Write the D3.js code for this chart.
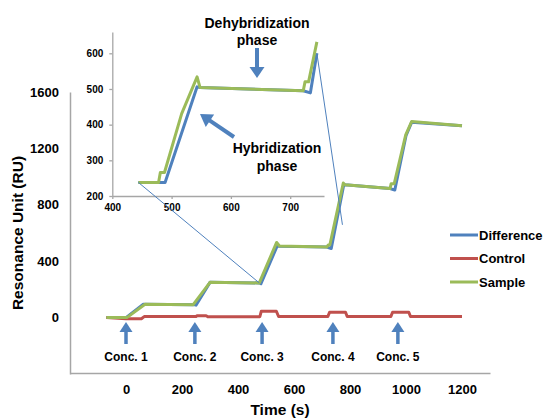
<!DOCTYPE html>
<html>
<head>
<meta charset="utf-8">
<script src="https://cdn.jsdelivr.net/npm/d3@7"></script>
<style>
  body { margin: 0; background: #fff; }
  svg { display: block; font-family: "Liberation Sans", Arial, sans-serif; font-weight: bold; }
  .axis text { fill: #000; font-weight: bold; }
</style>
</head>
<body>
<svg id="chart"></svg>
<script>
// ---- data ----
const xTicks = [0, 200, 400, 600, 800, 1000, 1200];
const yTicks = [0, 400, 800, 1200, 1600];
const insetXTicks = [400, 500, 600, 700];
const insetYTicks = [200, 300, 400, 500, 600];

const seriesNames = ['Difference', 'Control', 'Sample'];
const seriesColors = ['#4F81BD', '#C0504D', '#9BBB59'];

// main chart
const diffTime = [-70, 0, 62, 244, 250, 300, 476, 482, 540, 548, 717, 733, 778, 782, 943, 960, 1000, 1020, 1200];
const diffRU   = [0, 0, 95, 92, 88, 250, 246, 240, 508, 506, 500, 490, 945, 942, 915, 905, 1290, 1385, 1360];
const ctrlTime = [-70, 0, 55, 65, 250, 254, 286, 292, 478, 483, 537, 545, 721, 727, 784, 790, 946, 952, 1010, 1016, 1200];
const ctrlRU   = [0, -8, -8, 7, 7, 14, 14, 6, 6, 45, 45, 8, 8, 38, 38, 8, 8, 38, 38, 8, 8];
const sampleTime = [-70, 3, 68, 240, 300, 476, 538, 548, 717, 722, 728, 776, 782, 943, 947, 958, 999, 1020, 1200];
const sampleRU   = [0, 0, 95, 92, 250, 246, 533, 508, 500, 515, 515, 954, 942, 915, 950, 950, 1296, 1390, 1360];

// inset (zoom on conc. 3)
const insetDiffTime = [444, 489, 543, 548, 722, 734, 745];
const insetDiffRU   = [238, 238, 506, 504, 495, 489, 600];
const insetSampleTime = [444, 478, 481, 488, 517, 543, 548, 722, 725, 731, 745];
const insetSampleRU   = [238, 238, 266, 266, 431, 534, 504, 495, 520, 520, 632];

// injections
const concTimes = [0, 246, 486, 739, 971];
const concLabels = ['Conc. 1', 'Conc. 2', 'Conc. 3', 'Conc. 4', 'Conc. 5'];

// ---- drawing ----
const W = 545, H = 418;
const blue = '#4F81BD';
const svg = d3.select('#chart').attr('width', W).attr('height', H);

const x = d3.scaleLinear().domain([-200, 1300]).range([70, 490]);
const y = d3.scaleLinear().domain([-400, 1600]).range([374, 92]);

const ix = d3.scaleLinear().domain([400, 757]).range([112.3, 324]);
const iy = d3.scaleLinear().domain([200, 660]).range([196, 31.9]);

const zip = (a, b) => a.map((v, i) => [v, b[i]]);
const fmt = d3.format('d');

// main axes
svg.append('g').attr('class', 'axis')
    .attr('transform', `translate(0,373)`)
    .call(d3.axisBottom(x).tickValues(xTicks).tickFormat(fmt).tickSize(0).tickSizeOuter(0).tickPadding(12))
    .call(g => g.selectAll('text').style('font-size', '13px'))
    .call(g => g.select('.domain').attr('stroke', '#a6a6a6').attr('stroke-width', 1.5));

svg.append('g').attr('class', 'axis')
    .attr('transform', `translate(70,0)`)
    .call(d3.axisLeft(y).tickValues(yTicks).tickFormat(fmt).tickSize(0).tickSizeOuter(0).tickPadding(11))
    .call(g => g.selectAll('text').style('font-size', '13px'))
    .call(g => g.select('.domain').attr('stroke', '#a6a6a6').attr('stroke-width', 1.5));

svg.append('text')
    .attr('x', 280).attr('y', 415)
    .attr('text-anchor', 'middle')
    .style('font-size', '15.5px')
    .text('Time (s)');

svg.append('text')
    .attr('transform', 'translate(23,233) rotate(-90)')
    .attr('text-anchor', 'middle')
    .style('font-size', '15.5px')
    .text('Resonance Unit (RU)');

// main lines
const line = d3.line().x(d => x(d[0])).y(d => y(d[1]));
const mainData = [zip(diffTime, diffRU), zip(ctrlTime, ctrlRU), zip(sampleTime, sampleRU)];
svg.append('g').selectAll('path')
  .data(mainData)
  .join('path')
    .attr('d', line)
    .attr('fill', 'none')
    .attr('stroke', (d, i) => seriesColors[i])
    .attr('stroke-width', 3)
    .attr('stroke-linejoin', 'round');

// arrows
function arrow(g, x1, y1, x2, y2, headLen, headW, width) {
  const dx = x2 - x1, dy = y2 - y1;
  const len = Math.sqrt(dx * dx + dy * dy);
  const ux = dx / len, uy = dy / len;
  const bx = x2 - ux * headLen, by = y2 - uy * headLen;
  g.append('line')
    .attr('x1', x1).attr('y1', y1)
    .attr('x2', bx + ux * 1).attr('y2', by + uy * 1)
    .attr('stroke', blue).attr('stroke-width', width);
  g.append('path')
    .attr('d', `M${x2},${y2}L${bx - uy * headW},${by + ux * headW}L${bx + uy * headW},${by - ux * headW}Z`)
    .attr('fill', blue);
}

const concG = svg.append('g');
concTimes.forEach((t, i) => {
  arrow(concG, x(t), 344, x(t), 322, 10, 6.5, 3.5);
  concG.append('text')
    .attr('x', x(t)).attr('y', 361)
    .attr('text-anchor', 'middle')
    .style('font-size', '12px')
    .text(concLabels[i]);
});

// legend
const legend = svg.append('g');
seriesNames.forEach((name, i) => {
  const ly = 235 + i * 23.5;
  legend.append('line')
    .attr('x1', 450).attr('x2', 478).attr('y1', ly).attr('y2', ly)
    .attr('stroke', seriesColors[i]).attr('stroke-width', 3);
  legend.append('text')
    .attr('x', 479).attr('y', ly).attr('dy', '0.36em')
    .style('font-size', '13px')
    .text(name);
});

// inset
const inset = svg.append('g');
inset.append('g').attr('class', 'axis')
    .attr('transform', `translate(0,196)`)
    .call(d3.axisBottom(ix).tickValues(insetXTicks).tickSize(3).tickSizeOuter(0).tickPadding(5))
    .call(g => g.selectAll('text').style('font-size', '10px'))
    .call(g => g.selectAll('line, .domain').attr('stroke', '#a6a6a6').attr('stroke-width', 1.3));

inset.append('g').attr('class', 'axis')
    .attr('transform', `translate(112.3,0)`)
    .call(d3.axisLeft(iy).tickValues(insetYTicks).tickSize(3).tickSizeOuter(0).tickPadding(6))
    .call(g => g.selectAll('text').style('font-size', '10px'))
    .call(g => g.selectAll('line, .domain').attr('stroke', '#a6a6a6').attr('stroke-width', 1.3));

const iline = d3.line().x(d => ix(d[0])).y(d => iy(d[1]));
inset.selectAll('.iline')
  .data([{d: zip(insetDiffTime, insetDiffRU), c: seriesColors[0]},
         {d: zip(insetSampleTime, insetSampleRU), c: seriesColors[2]}])
  .join('path')
    .attr('class', 'iline')
    .attr('d', s => iline(s.d))
    .attr('fill', 'none')
    .attr('stroke', s => s.c)
    .attr('stroke-width', 3)
    .attr('stroke-linejoin', 'round');

// connectors from inset to main chart
svg.append('line')
    .attr('x1', ix(insetSampleTime[0])).attr('y1', iy(insetSampleRU[0]))
    .attr('x2', x(476)).attr('y2', y(246))
    .attr('stroke', blue).attr('stroke-width', 1);
svg.append('line')
    .attr('x1', ix(insetDiffTime[insetDiffTime.length - 1])).attr('y1', iy(insetDiffRU[insetDiffRU.length - 1]))
    .attr('x2', x(773)).attr('y2', y(658))
    .attr('stroke', blue).attr('stroke-width', 1);

// phase annotations
const ann = svg.append('g');
ann.append('text').attr('x', 257).attr('y', 28).attr('text-anchor', 'middle')
    .style('font-size', '14px').text('Dehybridization');
ann.append('text').attr('x', 257).attr('y', 45).attr('text-anchor', 'middle')
    .style('font-size', '14px').text('phase');
arrow(ann, 257, 48, 257, 78, 11, 7.5, 4);

ann.append('text').attr('x', 277).attr('y', 153).attr('text-anchor', 'middle')
    .style('font-size', '14px').text('Hybridization');
ann.append('text').attr('x', 277).attr('y', 171).attr('text-anchor', 'middle')
    .style('font-size', '14px').text('phase');
arrow(ann, 234, 137, 200, 114, 12, 7.5, 4);
</script>
</body>
</html>
